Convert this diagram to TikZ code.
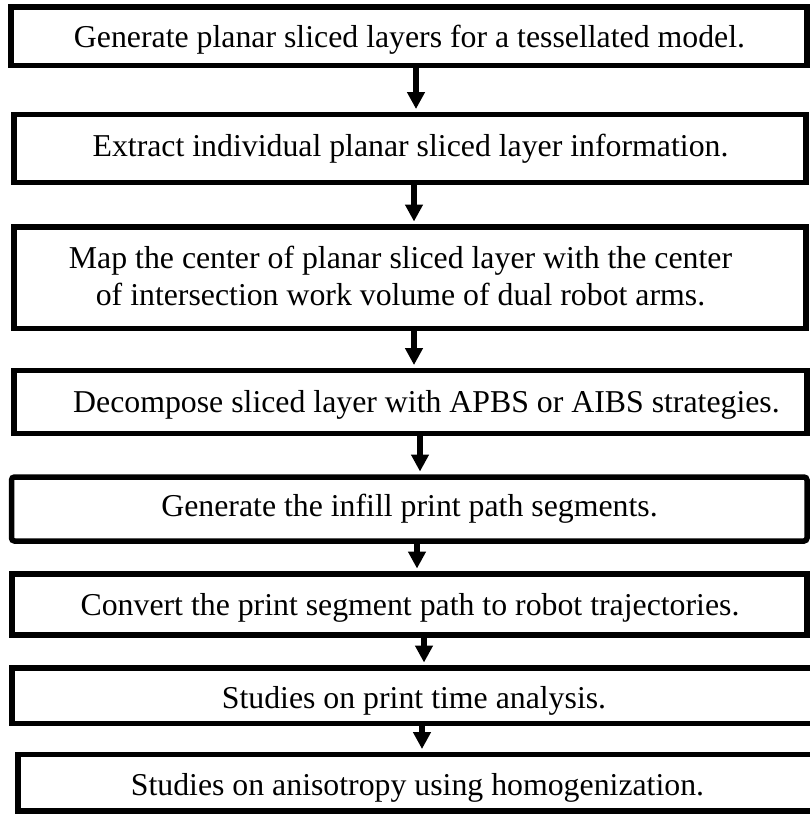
\documentclass[tikz,border=0pt]{standalone}
\usepackage{fontspec}
\setmainfont{Liberation Serif}
\usetikzlibrary{arrows.meta}
\begin{document}
\begin{tikzpicture}[x=1pt,y=-1pt,
  stepbox/.style={draw, line width=5.5pt, inner sep=0pt, rectangle},
  steptext/.style={anchor=base, inner sep=0pt, font=\fontsize{31.8}{35}\selectfont},
  arr/.style={line width=5.5pt, -{Triangle[length=17pt,width=17pt]}, shorten >=2.7pt}]
\useasboundingbox (0,0) rectangle (810,814);
% boxes: centre x, centre y, width, height (line centres)
\node[stepbox, minimum width=796pt, minimum height=58.5pt] (b1) at (409,36.25) {};
\node[stepbox, minimum width=792pt, minimum height=68pt] (b2) at (410,148.5) {};
\node[stepbox, minimum width=792pt, minimum height=101.5pt] (b3) at (410,277.75) {};
\node[stepbox, minimum width=793pt, minimum height=63pt] (b4) at (410.5,402) {};
\node[stepbox, rounded corners=3pt, minimum width=795.5pt, minimum height=64pt] (b5) at (409.25,509) {};
\node[stepbox, minimum width=795pt, minimum height=61pt] (b6) at (409.5,604.5) {};
\node[stepbox, minimum width=801pt, minimum height=55.5pt] (b7) at (412.5,695.75) {};
\node[stepbox, minimum width=795pt, minimum height=56.5pt] (b8) at (415.5,782.75) {};
% texts
\node[steptext] (t1) at (409.5,47.7) {Generate planar sliced layers for a tessellated model.};
\node[steptext] (t2) at (410.5,156.7) {Extract individual planar sliced layer information.};
\node[steptext] (t3a) at (400.5,268.5) {Map the center of planar sliced layer with the center};
\node[steptext] (t3b) at (400.5,305) {of intersection work volume of dual robot arms.};
\node[steptext] (t4) at (426.5,412.7) {Decompose sliced layer with APBS or AIBS strategies.};
\node[steptext] (t5) at (409.5,516.7) {Generate the infill print path segments.};
\node[steptext] (t6) at (410,615) {Convert the print segment path to robot trajectories.};
\begin{scope}
\clip (0,670) rectangle (810,714);
\node[steptext] (t7) at (414,708.5) {Studies on print time analysis.};
\end{scope}
\node[steptext] (t8) at (417.5,795) {Studies on anisotropy using homogenization.};
% arrows
\draw[arr] (b1.south -| 416,0) -- (b2.north -| 416,0);
\draw[arr] (b2.south -| 414,0) -- (b3.north -| 414,0);
\draw[arr] (b3.south -| 414,0) -- (b4.north -| 414,0);
\draw[arr] (b4.south -| 420,0) -- (b5.north -| 420,0);
\draw[arr] (b5.south -| 417,0) -- (b6.north -| 417,0);
\draw[arr] (b6.south -| 424,0) -- (b7.north -| 424,0);
\draw[arr] (b7.south -| 422,0) -- (b8.north -| 422,0);
\end{tikzpicture}
\end{document}
